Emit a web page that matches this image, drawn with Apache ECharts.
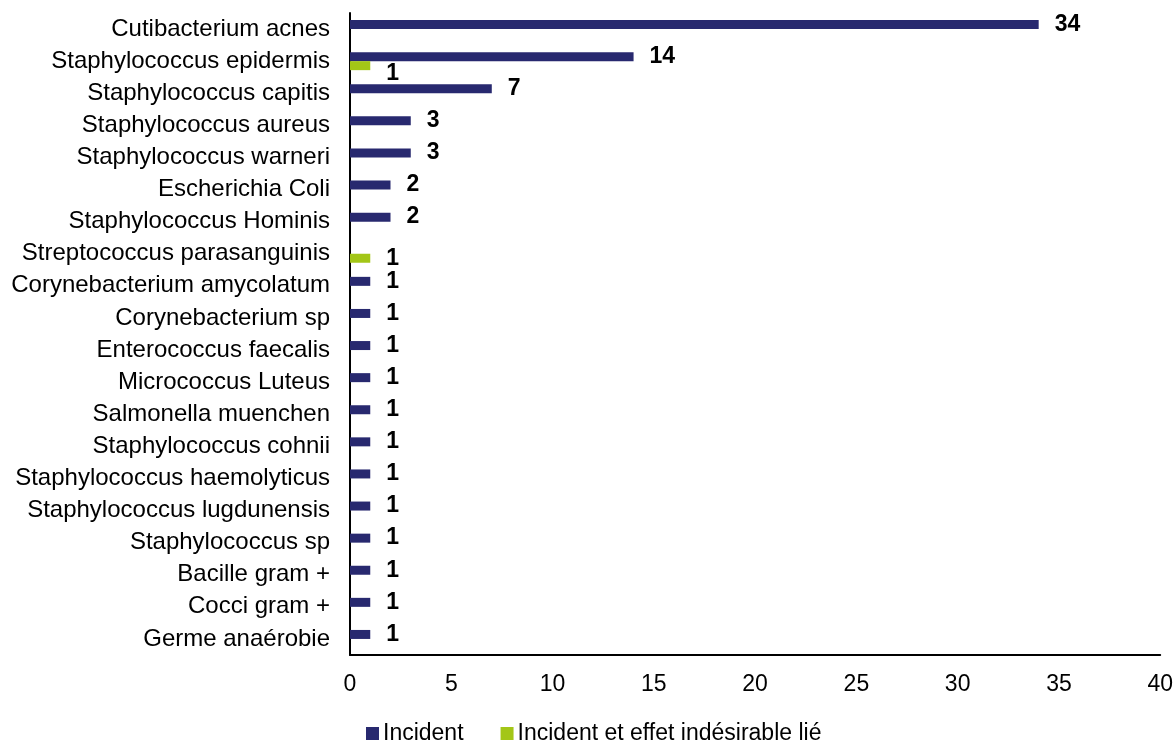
<!DOCTYPE html>
<html>
<head>
<meta charset="utf-8">
<script src="https://cdn.jsdelivr.net/npm/echarts@6/dist/echarts.min.js"></script>
<style>
  html, body { margin: 0; padding: 0; background: #fff; }
  #chart { width: 1176px; height: 743px; }
</style>
</head>
<body>
<div id="chart"></div>
<script>
// Germes identifiés : nombre d'incidents et d'incidents avec effet indésirable lié
const categories = [
  'Cutibacterium acnes',
  'Staphylococcus epidermis',
  'Staphylococcus capitis',
  'Staphylococcus aureus',
  'Staphylococcus warneri',
  'Escherichia Coli',
  'Staphylococcus Hominis',
  'Streptococcus parasanguinis',
  'Corynebacterium amycolatum',
  'Corynebacterium sp',
  'Enterococcus faecalis',
  'Micrococcus Luteus',
  'Salmonella muenchen',
  'Staphylococcus cohnii',
  'Staphylococcus haemolyticus',
  'Staphylococcus lugdunensis',
  'Staphylococcus sp',
  'Bacille gram +',
  'Cocci gram +',
  'Germe anaérobie'
];
const incident = [34, 14, 7, 3, 3, 2, 2, null, 1, 1, 1, 1, 1, 1, 1, 1, 1, 1, 1, 1];
const incidentEffet = [null, 1, null, null, null, null, null, 1, null, null, null, null, null, null, null, null, null, null, null, null];
const seriesNames = ['Incident', 'Incident et effet indésirable lié'];
const xTicks = { min: 0, max: 40, interval: 5 };

const FONT = '"Liberation Sans", Arial, sans-serif';
const NAVY = '#28296F';
const GREEN = '#A3C617';

const labelStyle = {
  show: true,
  position: 'right',
  distance: 16,
  color: '#000',
  fontFamily: FONT,
  fontSize: 23,
  fontWeight: 'bold'
};

const chart = echarts.init(document.getElementById('chart'), null, { renderer: 'canvas' });
chart.setOption({
  animation: false,
  backgroundColor: '#fff',
  grid: { left: 350, right: 15, top: 13, bottom: 88, containLabel: false },
  legend: {
    top: 722,
    left: 366,
    padding: 0,
    itemWidth: 13,
    itemHeight: 13,
    itemGap: 37,
    icon: 'rect',
    textStyle: { fontFamily: FONT, fontSize: 23, color: '#000', padding: [0, 0, 0, -1] },
    data: seriesNames
  },
  xAxis: {
    type: 'value',
    min: xTicks.min,
    max: xTicks.max,
    interval: xTicks.interval,
    axisLine: { show: true, lineStyle: { color: '#000', width: 2 } },
    axisTick: { show: false },
    splitLine: { show: false },
    axisLabel: { color: '#000', fontFamily: FONT, fontSize: 23, margin: 18 }
  },
  yAxis: {
    type: 'category',
    inverse: true,
    data: categories,
    axisLine: { show: true, onZero: false, lineStyle: { color: '#000', width: 2 } },
    axisTick: { show: false },
    axisLabel: { color: '#000', fontFamily: FONT, fontSize: 24, margin: 20, padding: [0, 0, 3, 0] }
  },
  series: [
    {
      name: seriesNames[0],
      type: 'bar',
      data: incident,
      barWidth: 9,
      barGap: '0%',
      itemStyle: { color: NAVY },
      label: labelStyle
    },
    {
      name: seriesNames[1],
      type: 'bar',
      data: incidentEffet.map((v, i) => i === 1 && v != null
        ? { value: v, label: { offset: [0, 8] } }
        : v),
      barWidth: 9,
      itemStyle: { color: GREEN },
      label: labelStyle
    }
  ]
});
</script>
</body>
</html>
